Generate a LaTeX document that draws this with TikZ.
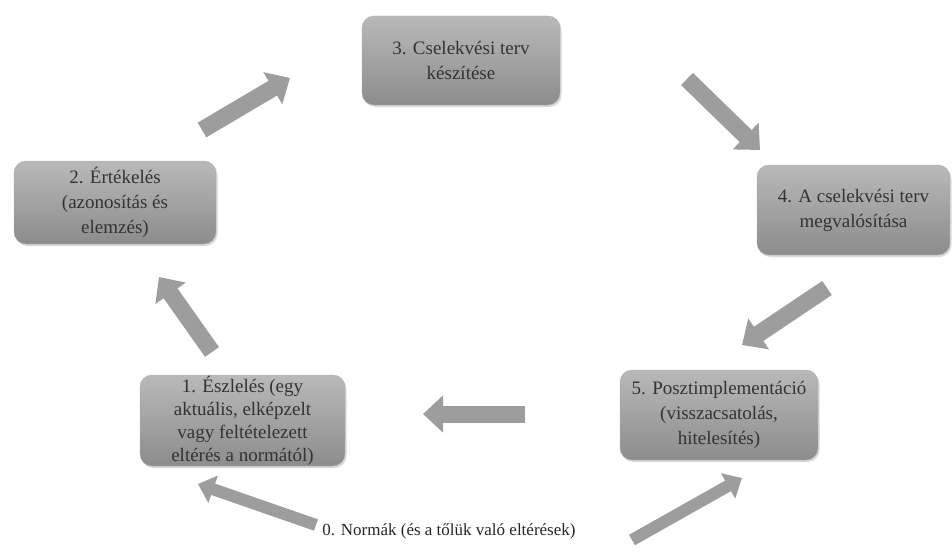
\documentclass[tikz,border=0pt]{standalone}
\usepackage{fontspec}
\setmainfont{Liberation Serif}
\usetikzlibrary{arrows.meta,shadows}
\definecolor{boxtop}{HTML}{B9B9B9}
\definecolor{boxbot}{HTML}{8C8C8C}
\definecolor{boxtext}{HTML}{333333}
\definecolor{arrowgray}{HTML}{9D9D9D}
\begin{document}
\begin{tikzpicture}[x=1pt,y=-1pt,
    stage/.style={rounded corners=12pt, top color=boxtop, bottom color=boxbot,
      draw=boxbot!70!white, text=boxtext, align=center, inner sep=0pt,
      font=\fontsize{19}{25}\selectfont,
      drop shadow={opacity=0.3, shadow xshift=1.5pt, shadow yshift=-2pt}},
    flow/.style={line width=17pt, draw=arrowgray,
      -{Triangle[length=20pt,width=36pt]}},
    thinflow/.style={flow, line width=12pt,
      -{Triangle[length=16pt,width=28pt]}}]
  \useasboundingbox (0,0) rectangle (952,551);

  % the five stages
  \node[stage, minimum width=198pt, minimum height=89pt] (plan) at (461,60.5)
    {3. Cselekvési terv\\készítése};
  \node[stage, minimum width=202pt, minimum height=83pt] (ertek) at (115,202.5)
    {2. Értékelés\\(azonosítás és\\elemzés)};
  \node[stage, minimum width=193pt, minimum height=90pt] (megval) at (853.5,210)
    {4. A cselekvési terv\\megvalósítása};
  \node[stage, minimum width=205pt, minimum height=91pt,
        font=\fontsize{19}{23}\selectfont] (eszl) at (242.5,420.5)
    {1. Észlelés (egy\\aktuális, elképzelt\\vagy feltételezett\\eltérés a normától)};
  \node[stage, minimum width=198pt, minimum height=90pt] (poszt) at (719,415)
    {5. Posztimplementáció\\(visszacsatolás,\\hitelesítés)};
  \node[font=\fontsize{17}{20}\selectfont, text=black!85] (norma) at (449,531)
    {0. Normák (és a tőlük való eltérések)};

  % arrow ends
  \coordinate (t23) at (202,130);  \coordinate (h23) at (290,78);
  \coordinate (t34) at (687,79);   \coordinate (h34) at (760,150);
  \coordinate (t45) at (827,288);  \coordinate (h45) at (742,345);
  \coordinate (t51) at (525,414);  \coordinate (h51) at (423,414);
  \coordinate (t12) at (212,352);  \coordinate (h12) at (159,277);
  \coordinate (t01) at (316,525);  \coordinate (h01) at (198,484);
  \coordinate (t05) at (632,540);  \coordinate (h05) at (742,478);

  \foreach \a in {23,34,45,51,12}
    \draw[flow] (t\a) -- (h\a);
  \foreach \a in {01,05}
    \draw[thinflow] (t\a) -- (h\a);
\end{tikzpicture}
\end{document}
